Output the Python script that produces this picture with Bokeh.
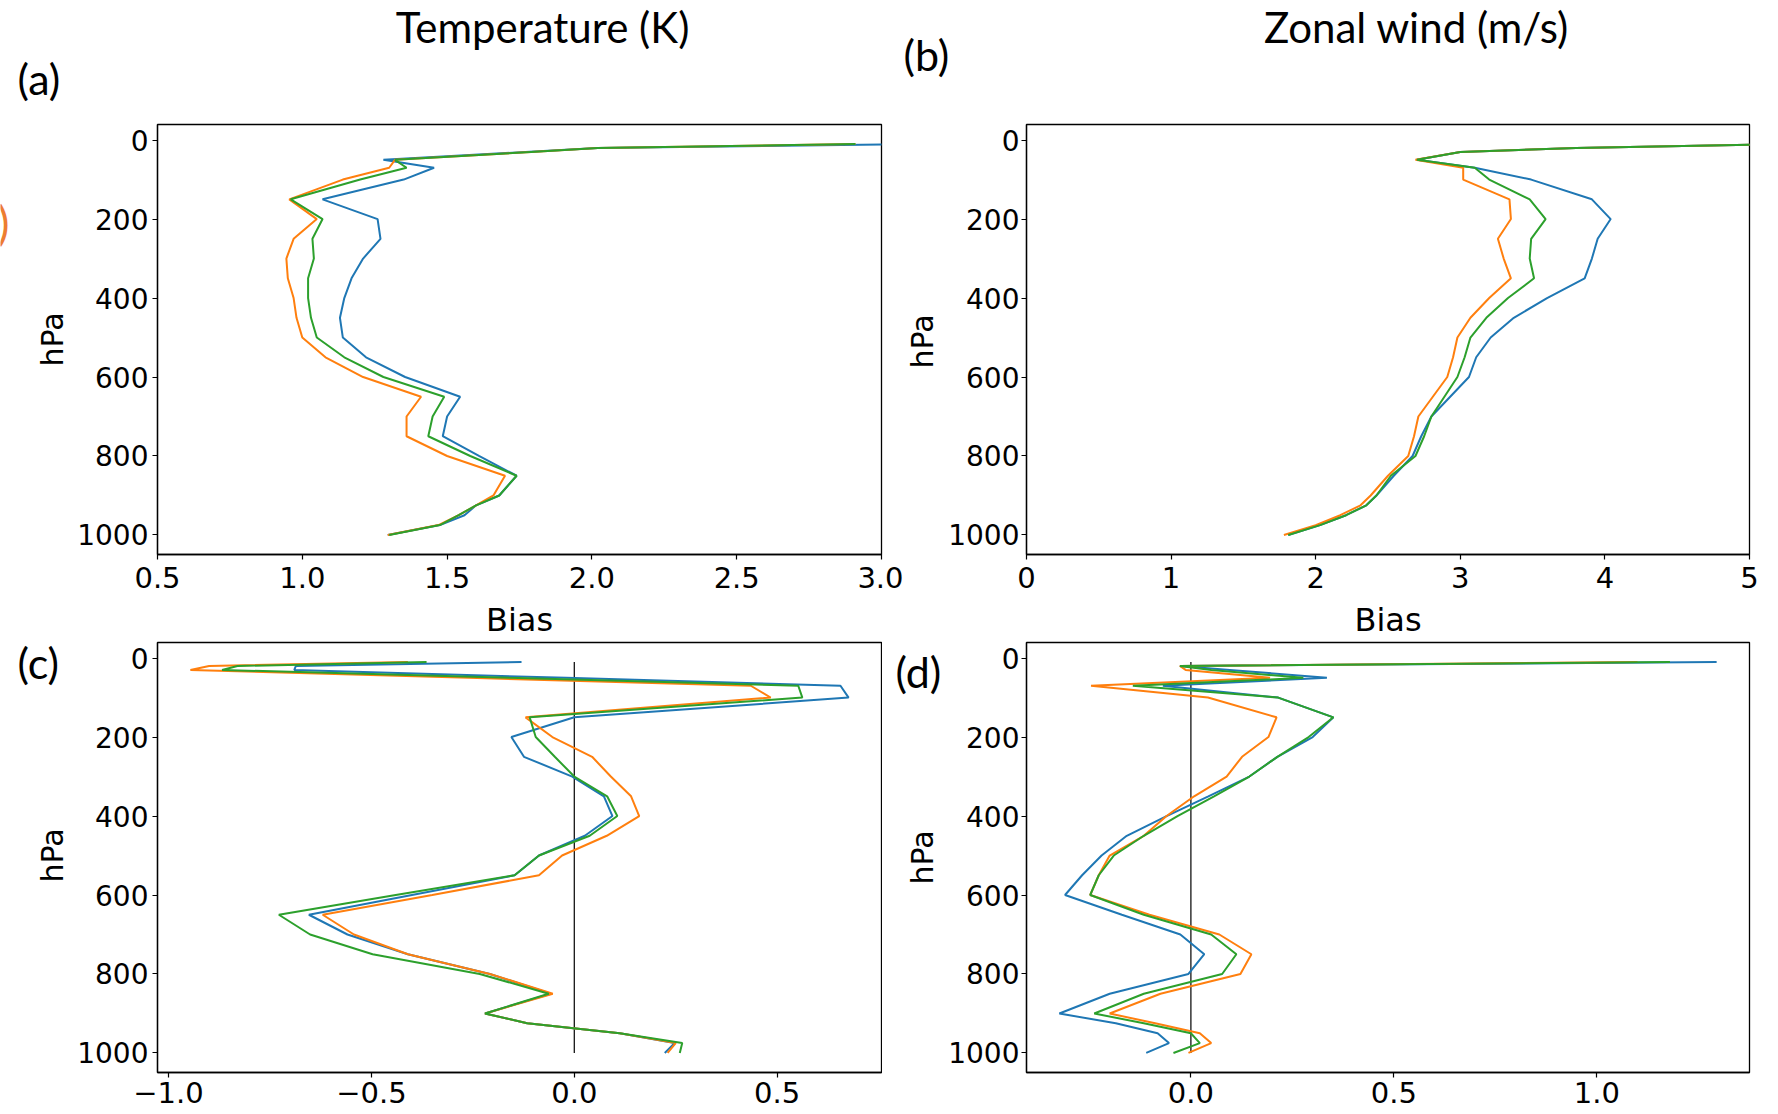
from math import pi
from bokeh.plotting import figure
from bokeh.models import Range1d, FixedTicker
from bokeh.core.properties import value
from bokeh.layouts import row, column
from bokeh.embed import file_html
from bokeh.resources import INLINE

# pressure levels (hPa)
levels = [10, 20, 30, 50, 70, 100, 150, 200, 250, 300, 350, 400, 450, 500,
          550, 600, 650, 700, 750, 800, 850, 900, 925, 950, 975, 1000]

# (a) Temperature bias (K)
temp_bias_blue = [3.11, 2.02, 1.77, 1.28, 1.455, 1.35, 1.07, 1.26, 1.27, 1.21, 1.17, 1.145, 1.13,
                  1.14, 1.22, 1.355, 1.545, 1.50, 1.485, 1.61, 1.74, 1.68, 1.60, 1.56, 1.475, 1.295]
temp_bias_orange = [2.91, 2.02, 1.79, 1.32, 1.30, 1.14, 0.955, 1.05, 0.97, 0.945, 0.95, 0.97, 0.98,
                    1.00, 1.08, 1.21, 1.41, 1.36, 1.36, 1.50, 1.70, 1.66, 1.60, 1.54, 1.47, 1.295]
temp_bias_green = [2.91, 2.02, 1.79, 1.32, 1.36, 1.20, 0.96, 1.07, 1.035, 1.04, 1.02, 1.02, 1.03,
                   1.05, 1.145, 1.28, 1.49, 1.45, 1.435, 1.58, 1.74, 1.68, 1.60, 1.54, 1.475, 1.30]

# (b) Zonal wind bias (m/s)
wind_bias_blue = [5.3, 3.8, 3.0, 2.7, 3.1, 3.49, 3.91, 4.04, 3.95, 3.91, 3.86, 3.6, 3.37,
                  3.21, 3.11, 3.06, 2.93, 2.80, 2.73, 2.67, 2.54, 2.42, 2.35, 2.21, 2.03, 1.81]
wind_bias_orange = [5.3, 3.8, 3.0, 2.69, 3.02, 3.02, 3.34, 3.35, 3.26, 3.30, 3.35, 3.2, 3.07,
                    2.98, 2.95, 2.91, 2.81, 2.71, 2.68, 2.64, 2.50, 2.38, 2.31, 2.17, 2.0, 1.78]
wind_bias_green = [5.3, 3.8, 3.0, 2.7, 3.1, 3.2, 3.48, 3.59, 3.49, 3.48, 3.51, 3.33, 3.18,
                   3.07, 3.03, 2.98, 2.89, 2.80, 2.75, 2.69, 2.52, 2.42, 2.35, 2.21, 2.03, 1.81]

# (c) Temperature bias difference
temp_diff_blue = [-0.13, -0.686, -0.69, -0.02, 0.656, 0.676, 0.0, -0.155, -0.124, -0.005, 0.073, 0.094, 0.026,
                  -0.087, -0.147, -0.40, -0.654, -0.559, -0.41, -0.208, -0.058, -0.22, -0.116, 0.112, 0.247, 0.223]
temp_diff_orange = [-0.41, -0.90, -0.946, -0.26, 0.435, 0.484, -0.12, -0.054, 0.044, 0.09, 0.14, 0.16, 0.08,
                    -0.03, -0.087, -0.35, -0.62, -0.543, -0.41, -0.208, -0.053, -0.22, -0.116, 0.112, 0.25, 0.23]
temp_diff_green = [-0.364, -0.83, -0.868, -0.16, 0.552, 0.562, -0.11, -0.095, -0.048, 0.0, 0.081, 0.106, 0.038,
                   -0.087, -0.147, -0.44, -0.728, -0.651, -0.497, -0.233, -0.063, -0.22, -0.116, 0.112, 0.266, 0.26]

# (d) Zonal wind bias difference
wind_diff_blue = [1.295, -0.027, 0.096, 0.335, -0.069, 0.215, 0.351, 0.30, 0.213, 0.144, 0.043, -0.06, -0.158,
                  -0.22, -0.268, -0.31, -0.17, -0.026, 0.033, -0.006, -0.2, -0.324, -0.185, -0.082, -0.054, -0.11]
wind_diff_orange = [1.10, -0.027, -0.013, 0.195, -0.246, 0.042, 0.211, 0.191, 0.126, 0.088, 0.008, -0.06, -0.116,
                    -0.2, -0.227, -0.248, -0.102, 0.07, 0.149, 0.122, -0.075, -0.2, -0.088, 0.022, 0.05, -0.006]
wind_diff_green = [1.18, -0.027, 0.05, 0.277, -0.143, 0.215, 0.351, 0.29, 0.213, 0.144, 0.057, -0.033, -0.116,
                   -0.19, -0.227, -0.248, -0.116, 0.05, 0.112, 0.077, -0.116, -0.238, -0.116, 0.0, 0.022, -0.043]

y_ticks = [0, 200, 400, 600, 800, 1000]
xticks_a = [0.5, 1.0, 1.5, 2.0, 2.5, 3.0]
xticks_b = [0, 1, 2, 3, 4, 5]
xticks_c = [-1.0, -0.5, 0.0, 0.5]
xticks_d = [0.0, 0.5, 1.0]

column_titles = ["Temperature (K)", "Zonal wind (m/s)"]
panel_tags = ["(a)", "(b)", "(c)", "(d)"]
x_label = "Bias"
y_label = "hPa"
edge_mark = ")"

COLORS = ["#1f77b4", "#ff7f0e", "#2ca02c"]
TICK_FONT = "DejaVu Sans"
TEXT_FONT = "Lato"
FRAME_H = 430


def fmt(v, decimals):
    s = f"{v:.{decimals}f}"
    return s.replace("-", "\u2212")


def padded(values, frac=0.05):
    lo, hi = min(values), max(values)
    pad = (hi - lo) * frac
    return lo - pad, hi + pad


def make_panel(series, xlim, xticks, decimals, border_l, frame_w, border_r, border_t, border_b,
               xlabel=None, xstandoff=7, ystandoff=4, zero_line=False):
    ylo, yhi = padded(levels)
    p = figure(output_backend="svg", toolbar_location=None,
               frame_width=frame_w, frame_height=FRAME_H,
               min_border_left=border_l, min_border_right=border_r,
               min_border_top=border_t, min_border_bottom=border_b,
               x_range=Range1d(*xlim), y_range=Range1d(yhi, ylo),
               background_fill_color="white", border_fill_color="white")
    p.xgrid.visible = False
    p.ygrid.visible = False
    p.outline_line_color = "black"
    p.outline_line_width = 1.3
    p.outline_line_alpha = 1.0
    for ax in (p.xaxis, p.yaxis):
        ax.axis_line_color = "black"
        ax.axis_line_width = 1.3
        ax.major_tick_line_color = "black"
        ax.major_tick_line_width = 1.2
        ax.major_tick_in = 0
        ax.major_tick_out = 5
        ax.minor_tick_line_color = None
        ax.major_label_text_font = TICK_FONT
        ax.major_label_text_color = "black"
        ax.axis_label_text_font = TICK_FONT
        ax.axis_label_text_font_style = "normal"
        ax.axis_label_text_color = "black"
    p.xaxis.major_label_text_font_size = "29px"
    p.yaxis.major_label_text_font_size = "28px"
    p.xaxis.axis_label_text_font_size = "32px"
    p.xaxis.major_label_standoff = xstandoff
    p.yaxis.major_label_standoff = ystandoff
    p.xaxis.ticker = FixedTicker(ticks=xticks)
    p.xaxis.major_label_overrides = {t: fmt(t, decimals) for t in xticks}
    p.yaxis.ticker = FixedTicker(ticks=y_ticks)
    p.yaxis.major_label_overrides = {t: str(t) for t in y_ticks}
    if xlabel:
        p.xaxis.axis_label = xlabel
        p.xaxis.axis_label_standoff = 10
    if zero_line:
        p.segment(x0=0, y0=levels[0], x1=0, y1=levels[-1], line_color="black", line_width=1.2)
    for vals, c in zip(series, COLORS):
        p.line(vals, levels, line_color=c, line_width=2)
    return p


def text_strip(w, h):
    s = figure(output_backend="svg", toolbar_location=None,
               frame_width=w, frame_height=h, min_border=0,
               x_range=Range1d(0, w), y_range=Range1d(0, h),
               x_axis_location=None, y_axis_location=None,
               outline_line_color=None,
               background_fill_color="white", border_fill_color="white")
    s.xgrid.visible = False
    s.ygrid.visible = False
    return s


def put_text(s, x, y, txt, font, size, align="left", baseline="middle", angle=0.0, color="black"):
    s.text(x=[x], y=[y], text=[txt], text_font=value(font), text_font_size=value(size),
           text_color=color, text_align=align, text_baseline=baseline, angle=angle)


W = 1776
H = 1114
LEFT_W = 74
TOP_STRIP_H = 107
TOP_FIG_H = 17 + FRAME_H + 86            # 533 -> ends at 640
BOT_FIG_H = H - TOP_STRIP_H - TOP_FIG_H  # 474
ROW1 = TOP_STRIP_H
ROW2 = TOP_STRIP_H + TOP_FIG_H
MID_X = 902                               # right edge of the left panels' canvases
MID_W = 42                                # strip holding the right panels' y labels

# left strip spanning the full height: (a), (c), y labels of the left panels, cropped bracket
left_strip = text_strip(LEFT_W, H)
put_text(left_strip, 17, H - 78, panel_tags[0], TEXT_FONT, "43px")
put_text(left_strip, 9, H - 222, edge_mark, TEXT_FONT, "46px", "right", color="#ED7D31")
put_text(left_strip, 52, H - 339, y_label, TICK_FONT, "30px", "center", "middle", pi / 2)
put_text(left_strip, 17, H - 662, panel_tags[2], TEXT_FONT, "43px")
put_text(left_strip, 52, H - 855, y_label, TICK_FONT, "30px", "center", "middle", pi / 2)

# top text strip: column titles and (b)
top_strip = text_strip(W - LEFT_W, TOP_STRIP_H)
put_text(top_strip, 542 - LEFT_W, TOP_STRIP_H - 26, column_titles[0], TEXT_FONT, "42px", "center")
put_text(top_strip, 1416 - LEFT_W, TOP_STRIP_H - 26, column_titles[1], TEXT_FONT, "42px", "center")
put_text(top_strip, 903 - LEFT_W, TOP_STRIP_H - 54, panel_tags[1], TEXT_FONT, "43px")

pa = make_panel([temp_bias_blue, temp_bias_orange, temp_bias_green], (0.5, 3.0), xticks_a, 1,
                156 - LEFT_W, 724, MID_X - 156 - 724, 17, 86, xlabel=x_label)

strip_b = text_strip(MID_W, TOP_FIG_H)
put_text(strip_b, 921 - MID_X, TOP_FIG_H - (324 - ROW1), y_label, TICK_FONT, "30px",
         "center", "middle", pi / 2)

pb = make_panel([wind_bias_blue, wind_bias_orange, wind_bias_green], (0, 5), xticks_b, 0,
                1023 - MID_X - MID_W, 723, W - 1023 - 723, 17, 86, xlabel=x_label, ystandoff=2)

c_all = temp_diff_blue + temp_diff_orange + temp_diff_green + [0.0]
d_all = wind_diff_blue + wind_diff_orange + wind_diff_green + [0.0]

pc = make_panel([temp_diff_blue, temp_diff_orange, temp_diff_green], padded(c_all), xticks_c, 1,
                156 - LEFT_W, 724, 1, 1, 43, xstandoff=4, zero_line=True)

strip_d = text_strip(63, BOT_FIG_H)
put_text(strip_d, 13, BOT_FIG_H - (669 - ROW2), panel_tags[3], TEXT_FONT, "43px")
put_text(strip_d, 921 - 881, BOT_FIG_H - (855 - ROW2), y_label, TICK_FONT, "30px",
         "center", "middle", pi / 2)

pd_ = make_panel([wind_diff_blue, wind_diff_orange, wind_diff_green], padded(d_all), xticks_d, 1,
                 79, 723, W - 1023 - 723, 1, 43, xstandoff=4, ystandoff=2, zero_line=True)

right_block = column(top_strip, row(pa, strip_b, pb), row(pc, strip_d, pd_))
layout = row(left_strip, right_block)

with open("out.html", "w") as f:
    f.write(file_html(layout, INLINE))
